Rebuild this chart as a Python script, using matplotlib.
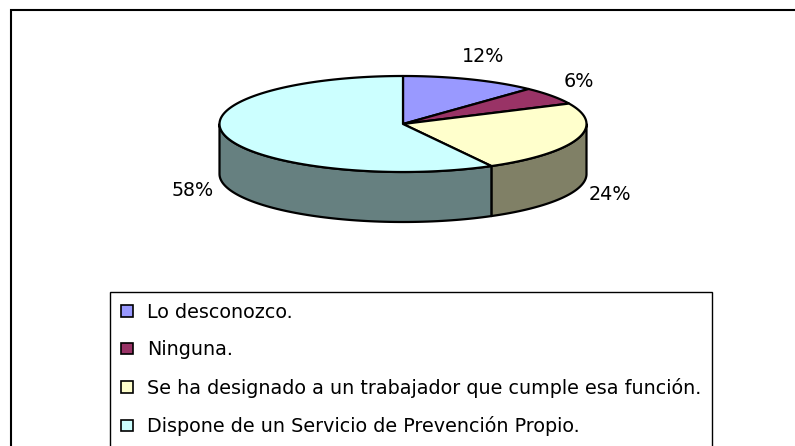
import numpy as np
import matplotlib
matplotlib.use('Agg')
import matplotlib.pyplot as plt
from matplotlib.patches import Polygon, Patch

# data
labels = ['Lo desconozco.', 'Ninguna.',
          'Se ha designado a un trabajador que cumple esa función.',
          'Dispone de un Servicio de Prevención Propio.']
values = [12, 6, 24, 58]
top_colors = ['#9999FF', '#993366', '#FFFFCC', '#CCFFFF']
side_colors = ['#4C4C80', '#4C1933', '#808066', '#668080']

FS = 13.75
plt.rcParams['font.family'] = ['DejaVu Sans']
plt.rcParams['font.size'] = FS

fig = plt.figure(figsize=(7.95, 4.46), dpi=100)
ax = fig.add_axes([0, 0, 1, 1])
ax.set_xlim(0, 795)
ax.set_ylim(446, 0)
ax.axis('off')

# outer chart frame (right and bottom edges are cut off)
ax.plot([11, 11, 800], [450, 10, 10], color='black', lw=1.5, solid_joinstyle='miter')

# 3D pie geometry (pixel units)
cx, cy = 403, 124
a, b = 183.5, 48
depth = 50


def ell(th):
    th = np.radians(th)
    return cx + a * np.cos(th), cy - b * np.sin(th)


fracs = np.array(values, dtype=float) / sum(values)
theta_start = 90 - np.concatenate([[0], np.cumsum(fracs)[:-1]]) * 360
theta_end = theta_start - fracs * 360

# side faces: only the front half (angles between -180 and 0) is visible
for t1, t2, col in zip(theta_start, theta_end, side_colors):
    hi, lo = t1, t2
    for shift in (0, -360, 360):
        s_lo = max(lo, -180 + shift)
        s_hi = min(hi, 0 + shift)
        if s_hi <= s_lo:
            continue
        th = np.linspace(s_lo, s_hi, 80)
        xs, ys = ell(th)
        px = np.concatenate([xs, xs[::-1]])
        py = np.concatenate([ys, ys[::-1] + depth])
        ax.add_patch(Polygon(np.column_stack([px, py]), closed=True,
                             facecolor=col, edgecolor='black', lw=1.6,
                             joinstyle='round'))

# top faces
for t1, t2, col in zip(theta_start, theta_end, top_colors):
    th = np.linspace(t1, t2, 150)
    xs, ys = ell(th)
    px = np.concatenate([[cx], xs])
    py = np.concatenate([[cy], ys])
    ax.add_patch(Polygon(np.column_stack([px, py]), closed=True,
                         facecolor=col, edgecolor='black', lw=1.6,
                         joinstyle='round'))

# percentage labels around the pie
for t1, t2, v in zip(theta_start, theta_end, values):
    mid = np.radians((t1 + t2) / 2)
    lx = cx + (a + 34) * np.cos(mid)
    ly = cy - (b + 25) * np.sin(mid)
    if np.sin(mid) < 0:
        ly += depth - 2
    ax.text(lx, ly, '{}%'.format(v), ha='center', va='center', fontsize=FS)

# legend
handles = [Patch(facecolor=c, edgecolor='black', lw=1.2) for c in top_colors]
leg = ax.legend(handles, labels, loc='upper left', bbox_to_anchor=(110, 292),
                bbox_transform=ax.transData, borderaxespad=0, fontsize=FS,
                frameon=True, fancybox=False, framealpha=1, edgecolor='black',
                borderpad=0.55, labelspacing=0.97, handlelength=0.68,
                handleheight=0.55, handletextpad=0.7)
leg.get_frame().set_linewidth(1.0)

fig.savefig('out.png', dpi=100)
